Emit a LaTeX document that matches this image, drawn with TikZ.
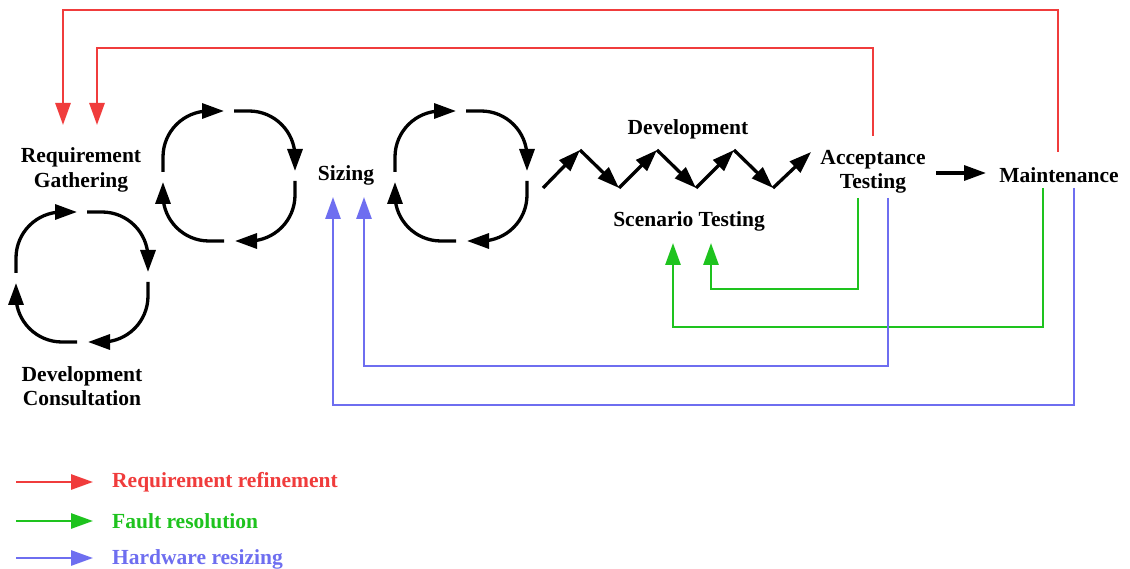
\documentclass[tikz,border=0pt]{standalone}
\usepackage{fontspec}
\setmainfont{Liberation Serif}
\usetikzlibrary{arrows.meta}
\definecolor{cred}{RGB}{240,60,60}
\definecolor{cgreen}{RGB}{30,195,30}
\definecolor{cblue}{RGB}{110,110,240}
\tikzset{
  lbl/.style={font=\fontsize{21.5}{24.5}\selectfont\bfseries, align=center, inner sep=0pt},
  blk/.style={draw=black, line width=3.3pt, -{Triangle[length=22pt,width=15pt]}},
  cyc/.style={blk, rounded corners=46pt},
  rl/.style={draw=cred, line width=2.8pt, -{Triangle[length=22pt,width=15pt]}},
  gl/.style={draw=cgreen, line width=2.8pt, -{Triangle[length=22pt,width=15pt]}},
  bl/.style={draw=cblue, line width=2.8pt, -{Triangle[length=22pt,width=15pt]}},
}
\newcommand\mycycle[1]{%
  \begin{scope}[shift={#1}]
    \draw[cyc] (5,-65) -- (66,-65) -- (66,-5);
    \draw[cyc] (66,5) -- (66,65) -- (6,65);
    \draw[cyc] (-5,65) -- (-66,65) -- (-66,6);
    \draw[cyc] (-66,-4) -- (-66,-65) -- (-5,-65);
  \end{scope}}
\begin{document}
\begin{tikzpicture}[x=1pt,y=-1pt]
\useasboundingbox (0,0) rectangle (1130,569);
\fill[white] (0,0) rectangle (1130,569);

% labels
\node[lbl] (rg) at (81,170) {Requirement\\Gathering};
\node[lbl] (dc) at (82,386) {Development\\Consultation};
\node[lbl] (sz) at (346,175) {Sizing};
\node[lbl] (dev) at (688,129) {Development};
\node[lbl] (sc) at (689,221) {Scenario Testing};
\node[lbl] (acc) at (873,172) {Acceptance\\Testing};
\node[lbl] (mt) at (1059,175) {Maintenance};

% cycles
\mycycle{(82,277)}
\mycycle{(229,176)}
\mycycle{(461,176)}

% zigzag
\coordinate (z0) at (543,188);
\coordinate (z1) at (580,150);
\coordinate (z2) at (619,188);
\coordinate (z3) at (657,150);
\coordinate (z4) at (696,188);
\coordinate (z5) at (734,150);
\coordinate (z6) at (773,188);
\coordinate (z7) at (811,152);
\draw[blk] (z0) -- (z1);
\draw[blk] (z1) -- (z2);
\draw[blk] (z2) -- (z3);
\draw[blk] (z3) -- (z4);
\draw[blk] (z4) -- (z5);
\draw[blk] (z5) -- (z6);
\draw[blk] (z6) -- (z7);

% acceptance -> maintenance
\coordinate (am1) at (936,173);
\coordinate (am2) at (986,173);
\draw[blk] (am1) -- (am2);

% ports
\coordinate (mtT) at (1058,152);
\coordinate (accT) at (873,136);
\coordinate (rgA) at (63,125);
\coordinate (rgB) at (97,125);
\coordinate (accG) at (858,198);
\coordinate (accB) at (888,198);
\coordinate (mtG) at (1043,188);
\coordinate (mtB) at (1074,188);
\coordinate (scA) at (673,243);
\coordinate (scB) at (711,243);
\coordinate (szA) at (333,197);
\coordinate (szB) at (364,197);

% red
\draw[rl] (mtT) -- (1058,10) -- (63,10) -- (rgA);
\draw[rl] (accT) -- (873,48) -- (97,48) -- (rgB);
% green
\draw[gl] (accG) -- (858,289) -- (711,289) -- (scB);
\draw[gl] (mtG) -- (1043,327) -- (673,327) -- (scA);
% blue
\draw[bl] (accB) -- (888,366) -- (364,366) -- (szB);
\draw[bl] (mtB) -- (1074,405) -- (333,405) -- (szA);

% legend
\coordinate (l1a) at (16,482); \coordinate (l1b) at (93,482);
\coordinate (l2a) at (16,521); \coordinate (l2b) at (93,521);
\coordinate (l3a) at (16,558); \coordinate (l3b) at (93,558);
\draw[rl] (l1a) -- (l1b);
\draw[gl] (l2a) -- (l2b);
\draw[bl] (l3a) -- (l3b);
\node[lbl, anchor=west, text=cred] (t1) at (112,482) {Requirement refinement};
\node[lbl, anchor=west, text=cgreen] (t2) at (112,521) {Fault resolution};
\node[lbl, anchor=west, text=cblue] (t3) at (112,559) {Hardware resizing};
\end{tikzpicture}
\end{document}
